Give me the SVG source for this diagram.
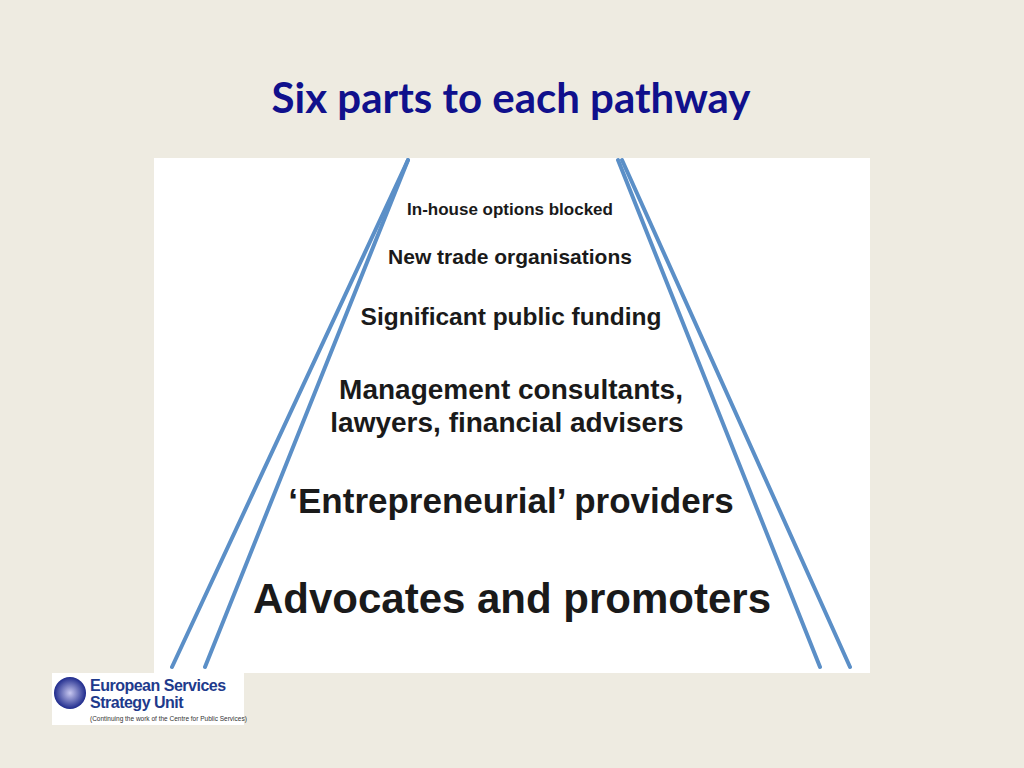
<svg xmlns="http://www.w3.org/2000/svg" width="1024" height="768" viewBox="0 0 1024 768">
<style>
.t{font-family:"Liberation Sans",Arial,sans-serif;font-weight:bold;fill:#1a1a1a;text-anchor:middle}
.ln{stroke:#5b8fc7;stroke-width:4;stroke-linecap:round;fill:none}
</style>
<rect width="1024" height="768" fill="#eeebe1"/>
<text x="511" y="113" font-family="Lato,'Liberation Sans',sans-serif" font-weight="bold" font-size="42" fill="#10108c" text-anchor="middle">Six parts to each pathway</text>
<rect x="154" y="158" width="716" height="515" fill="#ffffff"/>
<g id="connectors">
<line class="ln" x1="408" y1="160" x2="172" y2="667"/>
<line class="ln" x1="408" y1="160" x2="205" y2="667"/>
<line class="ln" x1="618" y1="160" x2="820" y2="667"/>
<line class="ln" x1="622" y1="160" x2="850" y2="667"/>
</g>
<g id="n1"><text class="t" x="510" y="215" font-size="17">In-house options blocked</text></g>
<g id="n2"><text class="t" x="510" y="264" font-size="21">New trade organisations</text></g>
<g id="n3"><text class="t" x="511" y="325" font-size="24.5">Significant public funding</text></g>
<g id="n4"><text class="t" x="511" y="399" font-size="28">Management consultants,</text><text class="t" x="507" y="432" font-size="28">lawyers, financial advisers</text></g>
<g id="n5"><text class="t" x="511" y="513" font-size="35">‘Entrepreneurial’ providers</text></g>
<g id="n6"><text class="t" x="512" y="613" font-size="42">Advocates and promoters</text></g>
<g id="logo">
<rect x="52" y="673" width="192" height="52" fill="#ffffff"/>
<defs><radialGradient id="g"><stop offset="0" stop-color="#c8c8f0"/><stop offset="1" stop-color="#1e2a8c"/></radialGradient></defs>
<circle cx="70" cy="693" r="16" fill="url(#g)"/>
<text x="90" y="691" font-family="'Liberation Sans',Arial,sans-serif" font-weight="bold" font-size="16" fill="#1e3a8c" letter-spacing="-0.5">European Services</text>
<text x="90" y="708" font-family="'Liberation Sans',Arial,sans-serif" font-weight="bold" font-size="16" fill="#1e3a8c" letter-spacing="-0.5">Strategy Unit</text>
<text x="90" y="721" font-family="'Liberation Sans',Arial,sans-serif" font-size="6.5" fill="#333">(Continuing the work of the Centre for Public Services)</text>
</g>
</svg>
